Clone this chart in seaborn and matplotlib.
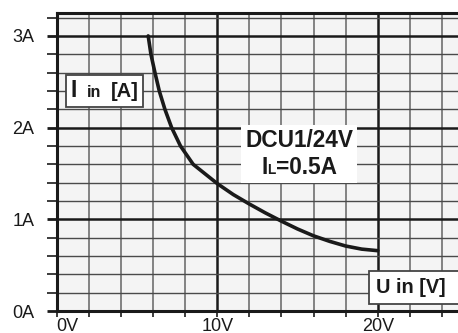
import matplotlib
matplotlib.use('Agg')
import matplotlib.pyplot as plt
import seaborn as sns
import pandas as pd
from matplotlib.offsetbox import TextArea, HPacker, VPacker, AnnotationBbox

# curve
voltage = [5.70, 5.87, 6.12, 6.39, 6.74, 7.16, 7.71, 8.5, 9.0, 10.0, 11.0, 12.0,
           13.0, 14.0, 15.0, 16.0, 17.0, 18.0, 19.0, 20.0]
current = [3.0, 2.8, 2.6, 2.4, 2.2, 2.0, 1.8, 1.6, 1.53, 1.39, 1.27, 1.167,
           1.07, 0.98, 0.895, 0.82, 0.76, 0.709, 0.675, 0.658]

x_major = [0, 10, 20]
x_labels = ['0V', '10V', '20V']
y_major = [0, 1, 2, 3]
y_labels = ['0A', '1A', '2A', '3A']

sns.set_theme(style='ticks')
plt.rcParams['font.family'] = ['Liberation Sans', 'DejaVu Sans']

ink = '#1a1a1a'
df = pd.DataFrame({'U': voltage, 'I': current})

fig = plt.figure(figsize=(4.58, 3.33), dpi=100)
ax = fig.add_axes([0.1238, 0.066, 1 - 0.1238, 0.895])
ax.set_facecolor('#f4f4f4')

sns.lineplot(data=df, x='U', y='I', ax=ax, color=ink, linewidth=2.6, zorder=5)

ax.set_xlim(0, 25)
ax.set_ylim(0, 3.25)
ax.set_xticks(x_major)
ax.set_xticklabels(x_labels)
ax.set_xticks(range(0, 26, 2), minor=True)
ax.set_yticks(y_major)
ax.set_yticklabels(y_labels)
ax.set_yticks([i / 5 for i in range(0, 17)], minor=True)
ax.set_xlabel('')
ax.set_ylabel('')

# grid: minor first, majors on top
ax.grid(axis='x', which='minor', color='#7a7a7a', linewidth=1.3, zorder=1)
ax.grid(axis='y', which='minor', color='#4a4a4a', linewidth=1.0, zorder=1)
ax.grid(axis='both', which='major', color=ink, linewidth=1.8, zorder=2)
ax.set_axisbelow(True)

ax.tick_params(axis='x', which='both', direction='out', length=4, width=1.2, color=ink,
               labelsize=13, labelcolor=ink, pad=1)
ax.tick_params(axis='y', which='both', direction='out', length=7, width=1.2, color=ink,
               labelsize=13, labelcolor=ink, pad=9)
ax.tick_params(axis='y', which='major', width=2)
ax.get_xticklabels()[0].set_ha('left')

for side in ['left', 'bottom', 'top']:
    ax.spines[side].set_color(ink)
    ax.spines[side].set_linewidth(2.2)
ax.spines['right'].set_visible(False)


def piece(s, size):
    return TextArea(s, textprops=dict(fontsize=size, fontweight='bold', color=ink))


# "I in [A]" label
lab_i = HPacker(children=[piece('I', 16.5), piece('in', 11.5), piece('[A]', 14.5)],
                align='baseline', pad=0, sep=7)
ab = AnnotationBbox(lab_i, (3.0, 2.40), xycoords='data', box_alignment=(0.5, 0.5),
                    frameon=True, pad=0.3,
                    bboxprops=dict(facecolor='white', edgecolor='#444444', linewidth=1.3))
ax.add_artist(ab)

# device label
line1 = piece('DCU1/24V', 16.3)
line2 = HPacker(children=[piece('I', 16.3), piece('L', 9.8), piece('=0.5A', 16.3)],
                align='baseline', pad=0, sep=0)
dev = VPacker(children=[line1, line2], align='center', pad=0, sep=3)
ab2 = AnnotationBbox(dev, (15.1, 1.71), xycoords='data', box_alignment=(0.5, 0.5),
                     frameon=True, pad=0.25,
                     bboxprops=dict(facecolor='white', edgecolor='white', linewidth=0))
ax.add_artist(ab2)

# "U in [V]" label, box runs off the right edge
lab_u = HPacker(children=[piece('U in [V]', 14.3), piece('', 14.3)],
                align='baseline', pad=0, sep=30)
ab3 = AnnotationBbox(lab_u, (19.9, 0.26), xycoords='data', box_alignment=(0.0, 0.5),
                     frameon=True, pad=0.45,
                     bboxprops=dict(facecolor='white', edgecolor='#444444', linewidth=1.3))
ax.add_artist(ab3)

fig.savefig('out.png', dpi=100)
